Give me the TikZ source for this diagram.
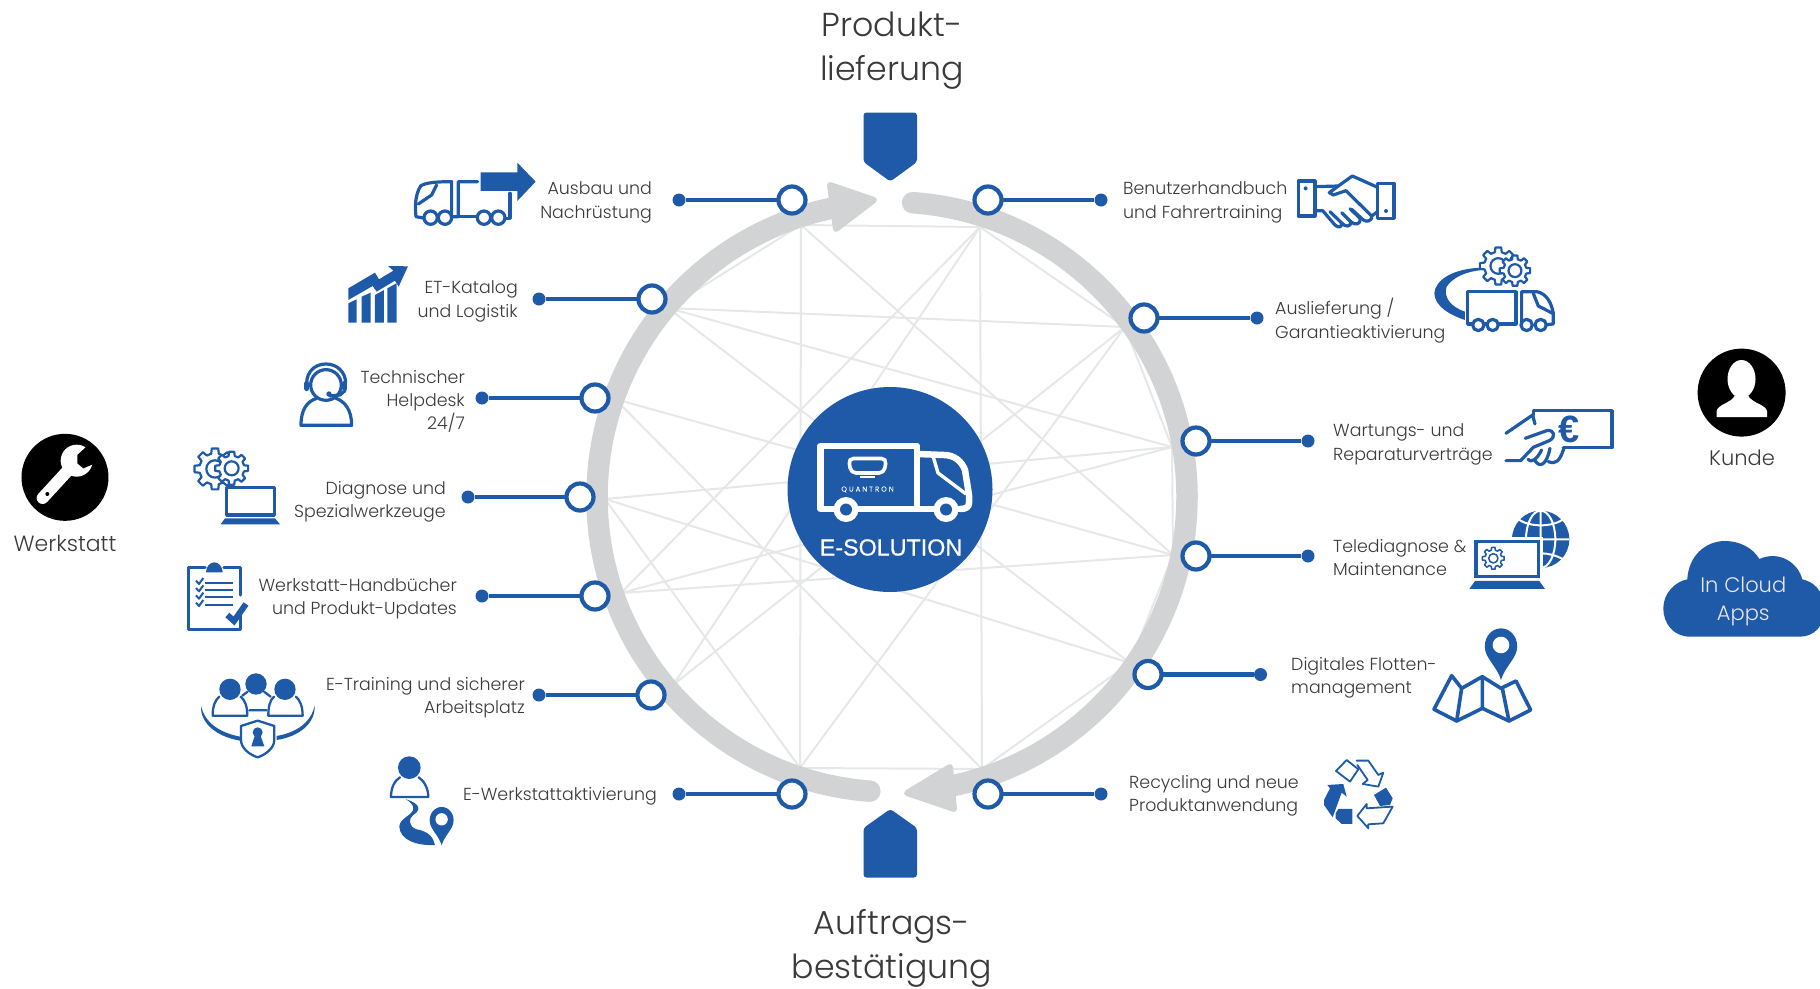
\documentclass[tikz,border=0pt]{standalone}
\usepackage{fontspec}
\setmainfont{Poppins Light}
\newfontfamily\arialfont{Liberation Sans}
\usetikzlibrary{calc}
\definecolor{qblue}{HTML}{1E5AA8}
\definecolor{ringgray}{HTML}{D1D3D4}
\definecolor{webgray}{HTML}{E6E7E8}
\definecolor{txtgray}{HTML}{3A3A3C}
\tikzset{
  crop/.style 2 args={shift={(#1,#2)},x=.3333pt,y=-.3333pt},
  webline/.style={draw=webgray,line width=2pt},
  ringarc/.style={draw=ringgray,line width=21.5pt,line cap=round},
  ringtip/.style={fill=ringgray,draw=ringgray,line width=6pt,line join=round},
  leadline/.style={draw=qblue,line width=4.2pt},
  ringnode/.style={circle,draw=qblue,line width=4.2pt,fill=white,inner sep=0pt,minimum size=27pt},
  dotnode/.style={circle,fill=qblue,inner sep=0pt,minimum size=13pt},
  lbl/.style={text=txtgray,font=\fontsize{17.4}{23.3}\selectfont,inner sep=0pt,yshift=-2.5pt},
  lblr/.style={lbl,anchor=east,align=right},
  lbll/.style={lbl,anchor=west,align=left},
  title/.style={text=txtgray,font=\fontsize{33.2}{44}\selectfont,align=center,inner sep=0pt,yshift=-4pt},
  ico/.style={draw=qblue,line width=3.2pt,line join=round,line cap=round},
  icofill/.style={fill=qblue},
  gearline/.style={draw=qblue,line width=2.2pt,line join=round,fill=white},
  gear/.pic={
    \draw[gearline] (-14:.76) \foreach \a in {0,45,...,315}{ -- (\a-14:.76) -- (\a-9:1) -- (\a+9:1) -- (\a+14:.76) } -- cycle;
    \draw[gearline] (0,0) circle (.42);
  },
  mappin/.pic={
    \fill[qblue] (-.94,.35) .. controls (-.8,.9) and (-.2,1.4) .. (0,2.1) .. controls (.2,1.4) and (.8,.9) .. (.94,.35) .. controls (1.1,-.4) and (.6,-1) .. (0,-1) .. controls (-.6,-1) and (-1.1,-.4) .. (-.94,.35) -- cycle;
    \fill[white] (0,0) circle (.5);
  },
}
\begin{document}
\begin{tikzpicture}[x=1pt,y=-1pt]
  \useasboundingbox (0,0) rectangle (1820,988);
  % web inside the ring
  \coordinate (wa) at (801,225);
  \coordinate (wb) at (668,308);
  \coordinate (wc) at (615,399);
  \coordinate (wd) at (605,499);
  \coordinate (we) at (621,593);
  \coordinate (wf) at (673,685);
  \coordinate (wg) at (800,768);
  \coordinate (wh) at (980,227);
  \coordinate (wi) at (1125,327);
  \coordinate (wj) at (1172,447);
  \coordinate (wk) at (1173,555);
  \coordinate (wl) at (1130,663);
  \coordinate (wm) at (982,769);
  \foreach \p/\q in {wa/wh,wa/wg,wa/wb,wa/wk,wh/wm,wh/wi,wh/we,wh/wf,wb/wi,wb/wj,wb/wl,wb/wc,wc/wk,wc/wm,wd/wj,wd/wl,wd/wg,we/wj,we/wk,wf/wi,wg/wi,wg/wm,wm/wl,wl/wk,wk/wj,wj/wi}
    \draw[webline] (\p) -- (\q);

  % grey ring with its two arrows
  \coordinate (loop) at (892,497);
  \draw[ringarc] ([shift={(-86:295)}]loop) arc[start angle=-86,end angle=78,radius=295];
  \draw[ringarc] ([shift={(94.3:295)}]loop) arc[start angle=94.3,end angle=258,radius=295];
  \draw[ringtip] (874,200) -- (830,185) -- (836,229) -- cycle;
  \draw[ringtip] (907,793) -- (950,767) -- (954,809) -- cycle;

  % the two shields
  \fill[qblue,rounded corners=3pt] (863.5,112.5) -- (917,112.5) -- (917,162) -- (890.3,181.5) -- (863.5,162) -- cycle;
  \fill[qblue,rounded corners=3pt] (863.5,877.5) -- (917,877.5) -- (917,828) -- (890.3,809) -- (863.5,828) -- cycle;

  % hub
  \node[circle,fill=qblue,inner sep=0pt,minimum size=205pt] (hub) at (890,489.5) {};
  \draw[draw=white,line width=6.5pt,line join=round] (917,509) -- (820.5,509) -- (820.5,446) -- (917,446) -- (917,509) -- (965,509);
  \draw[draw=white,line width=6.5pt,line join=round] (918,454) -- (944,455) .. controls (955,455) and (962,462) .. (965,470) -- (969,495) -- (969,503) .. controls (969,507) and (966,509) .. (960,509);
  \draw[draw=white,line width=3.4pt,line join=round] (933,456) -- (938,473) -- (966,494);
  \foreach \w/\x in {wheela/846,wheelb/946}{
    \node[circle,fill=white,inner sep=0pt,minimum size=25pt] (\w) at (\x,509.5) {};
    \node[circle,fill=qblue,inner sep=0pt,minimum size=12pt] at (\w) {};
  }
  \draw[draw=white,line width=3.6pt,rounded corners=5pt] (848.5,458.5) -- (886.5,458.5) -- (884,473) -- (851,473) -- cycle;
  \draw[draw=white,line width=1.6pt] (860,477) -- (875,477);
  \node[text=white,inner sep=0pt,font=\fontsize{7}{8}\selectfont\addfontfeatures{LetterSpace=30,FakeBold=.4}] (brand) at (867.5,489.5) {QUANTRON};
  \node[text=white,inner sep=0pt,font=\arialfont\fontsize{23.3}{26}\selectfont\addfontfeatures{FakeBold=.7}] (esol) at (891,547.5) {E-SOLUTION};

  % leads, left side then right side
  \foreach \n/\rx/\dx/\y in {la/792/679/200,lb/652/539/299,lc/595/482/398,ld/580/468/497,le/595/482/596,lf/651/539/695,lg/792/679/794,
                          ra/988/1101/200,rb/1144/1257/318,rc/1196/1308/441,rd/1196/1308/556,re/1148/1260.5/674.5,rf/988/1101/794}{
    \node[dotnode] (\n dot) at (\dx,\y) {};
    \draw[leadline] (\n dot) -- (\rx,\y) node[ringnode] (\n ring) {};
  }

  % labels
  \node[lblr] (lalbl) at (652,200) {Ausbau und\\Nachrüstung};
  \node[lblr] (lblbl) at (518,299) {ET-Katalog\\und Logistik};
  \node[lblr] (lclbl) at (465,399) {Technischer\\Helpdesk\\24/7};
  \node[lblr] (ldlbl) at (446,499) {Diagnose und\\Spezialwerkzeuge};
  \node[lblr] (lelbl) at (457,596) {Werkstatt-Handbücher\\und Produkt-Updates};
  \node[lblr] (lflbl) at (525,695) {E-Training und sicherer\\Arbeitsplatz};
  \node[lblr] (lglbl) at (657,794) {E-Werkstattaktivierung};
  \node[lbll] (ralbl) at (1123,200) {Benutzerhandbuch\\und Fahrertraining};
  \node[lbll] (rblbl) at (1275,318) {Auslieferung /\\Garantieaktivierung};
  \node[lbll] (rclbl) at (1333,442) {Wartungs- und\\Reparaturverträge};
  \node[lbll] (rdlbl) at (1333,555) {Telediagnose \&\\Maintenance};
  \node[lbll] (relbl) at (1291,675) {Digitales Flotten-\\management};
  \node[lbll] (rflbl) at (1129,793) {Recycling und neue\\Produktanwendung};
  \node[title] (top) at (892,47) {Produkt-\\lieferung};
  \node[title] (bottom) at (892,944) {Auftrags-\\bestätigung};

  % Werkstatt
  \begin{scope}[crop={0}{420}]
    \node[circle,fill=black,inner sep=0pt,minimum size=87pt] (shop) at (195,172) {};
    \draw[white,line width=12pt,line cap=round] (205,150) -- (128,234);
    \fill[white] (230,122) circle (48);
    \fill[black] (272,68) -- (232,105) -- (232,130) -- (250,145) -- (298,125) -- cycle;
    \fill[black] (142,222) circle (6);
    \node[lbl,font=\fontsize{22}{25}\selectfont] (shoplbl) at (195,363) {Werkstatt};
  \end{scope}

  % Kunde
  \node[circle,fill=black,inner sep=0pt,minimum size=88pt] (client) at (1741.6,392.6) {};
  \fill[white] (1741.5,379) ellipse (14 and 19);
  \fill[white] (1716.5,417) -- (1716.5,411) .. controls (1718,404) and (1732,403) .. (1735,395) -- (1748,395) .. controls (1751,403) and (1765,404) .. (1767,411) -- (1767,417) -- cycle;
  \node[lbl,font=\fontsize{21}{25}\selectfont] (clientlbl) at (1742,455.5) {Kunde};

  % cloud
  \begin{scope}[crop={1300}{480}]
    \fill[qblue] (1170,470) .. controls (1120,470) and (1090,430) .. (1090,385) .. controls (1090,340) and (1125,305) .. (1162,298) .. controls (1165,230) and (1215,183) .. (1275,183) .. controls (1320,183) and (1360,205) .. (1378,237) .. controls (1440,210) and (1495,250) .. (1507,298) .. controls (1540,305) and (1570,330) .. (1575,385) .. controls (1575,440) and (1540,470) .. (1500,470) -- cycle;
    \node[text=webgray,inner sep=0pt,align=center,font=\fontsize{21}{28.5}\selectfont] (cloudlbl) at (1330,365) {In Cloud\\Apps};
  \end{scope}

  % icons of the left side
  \begin{scope}[crop={180}{150}]
    % truck and arrow
    \draw[ico] (735,205) -- (708,200) .. controls (705,170) and (705,135) .. (722,108) .. controls (735,98) and (770,95) .. (815,95) -- (815,200) -- (835,200) -- (835,95) -- (893,95);
    \draw[ico] (770,105) -- (755,135) -- (715,162);
    \draw[ico] (835,200) -- (890,200) (990,130) -- (990,205) -- (975,205);
    \foreach \x in {752,795,912,955} \draw[ico,fill=white] (\x,203) circle (20);
    \fill[qblue] (902,67) -- (1012,67) -- (1012,38) -- (1067,95) -- (1012,153) -- (1012,123) -- (902,123) -- cycle;
    % chart
    \fill[qblue] (505,415) -- (585,368) -- (597,388) -- (640,362) -- (624,348) -- (684,349) -- (656,410) -- (645,392) -- (590,425) -- (578,408) -- (505,450) -- cycle;
    \fill[qblue] (505,460) -- (530,448) -- (530,518) -- (505,518) -- cycle;
    \fill[qblue] (545,440) -- (572,428) -- (572,518) -- (545,518) -- cycle;
    \fill[qblue] (585,435) -- (612,420) -- (612,518) -- (585,518) -- cycle;
    \fill[qblue] (622,415) -- (650,400) -- (650,518) -- (622,518) -- cycle;
    % headset
    \draw[ico] (438,705) circle (46);
    \draw[ico] (380,700) .. controls (380,665) and (405,642) .. (438,642) .. controls (470,642) and (497,665) .. (497,700);
    \draw[qblue,line width=5pt,line cap=round] (381,700) -- (381,716) (495,700) -- (495,716);
    \draw[ico] (495,722) -- (480,735) -- (450,738);
    \fill[qblue] (447,732) circle (8);
    \draw[ico] (410,745) .. controls (380,755) and (363,780) .. (363,826) -- (515,826) .. controls (515,780) and (495,755) .. (468,745);
    % gears and laptop
    \pic[scale=62] at (105,957) {gear};
    \pic[scale=50] at (155,955) {gear};
    \draw[ico,fill=white,line cap=butt] (140,1013) rectangle (283,1095);
    \fill[qblue] (135,1105) -- (285,1105) -- (300,1123) -- (122,1123) -- cycle;
  \end{scope}

  \begin{scope}[crop={150}{540}]
    % clipboard
    \draw[ico] (165,83) -- (115,83) -- (115,268) -- (272,268) -- (272,215);
    \draw[ico] (272,165) -- (272,83) -- (222,83);
    \fill[qblue] (168,97) .. controls (168,80) and (180,67) .. (193,67) .. controls (206,67) and (218,80) .. (218,97) -- cycle;
    \foreach \y in {128,150,172,194}{
      \draw[qblue,line width=2pt] (165,\y) -- (248,\y);
      \draw[qblue,line width=2pt,line join=round] (138,\y-6) -- (147,\y+4) -- (160,\y-14);
    }
    \draw[qblue,line width=6pt,line join=miter] (232,225) -- (252,243) -- (288,192);
    % team with shield
    \foreach \x/\y in {240/448,318/432,405/448} \fill[qblue] (\x,\y) circle (32);
    \draw[ico,line width=2.3pt] (208,470) .. controls (195,480) and (188,500) .. (188,527) -- (292,527) .. controls (292,500) and (285,480) .. (272,470);
    \draw[ico,line width=2.3pt] (372,470) .. controls (360,480) and (355,500) .. (355,527) -- (458,527) .. controls (458,500) and (450,480) .. (438,470);
    \draw[ico,line width=2.3pt] (277,467) -- (293,455) (342,455) -- (362,470) (298,511) -- (350,511);
    \fill[qblue] (153,497) .. controls (165,550) and (210,578) .. (270,590) -- (270,602) .. controls (200,590) and (150,550) .. (153,497) -- cycle;
    \fill[qblue] (494,497) .. controls (482,550) and (437,578) .. (380,588) -- (380,600) .. controls (447,590) and (497,550) .. (494,497) -- cycle;
    \draw[ico,line width=2.3pt] (323,542) -- (373,558) -- (373,600) .. controls (373,625) and (345,645) .. (323,652) .. controls (300,645) and (273,625) .. (273,600) -- (273,558) -- cycle;
    \fill[qblue] (323,577) circle (15);
    \fill[qblue] (315,585) -- (331,585) -- (343,619) -- (304,619) -- cycle;
    % person, road and pin
    \fill[qblue] (778,683) circle (34);
    \draw[ico,line width=2.3pt] (750,712) .. controls (733,722) and (723,745) .. (723,771) -- (835,771) .. controls (835,745) and (822,722) .. (806,712);
    \fill[qblue] (768,778) .. controls (810,790) and (815,810) .. (790,825) .. controls (775,835) and (775,860) .. (800,868) .. controls (840,875) and (850,895) .. (855,915) .. controls (800,918) and (750,900) .. (748,860) .. controls (748,835) and (790,825) .. (790,805) .. controls (790,795) and (780,785) .. (768,778) -- cycle;
    \pic[scale=37] at (875,838) {mappin};
  \end{scope}

  % icons of the right side
  \begin{scope}[crop={1100}{150}]
    % handshake
    \draw[ico] (595,93) rectangle (645,198) (833,100) rectangle (882,205);
    \fill[qblue] (617,115) circle (6) (858,183) circle (6);
    \draw[ico] (645,110) -- (715,108) -- (757,78) -- (833,112);
    \draw[ico] (715,108) -- (688,128) -- (700,135) -- (738,122) -- (815,198) .. controls (818,212) and (800,218) .. (790,210) -- (755,178);
    \draw[ico] (645,182) -- (668,182) -- (705,225) .. controls (715,235) and (728,232) .. (724,218) -- (690,185);
    \draw[ico] (724,218) .. controls (735,232) and (755,232) .. (752,215) -- (725,188);
    \draw[ico] (752,215) .. controls (765,228) and (785,222) .. (780,205) -- (750,176);
    \draw[ico] (815,198) -- (833,185);
    % truck, swoosh and gears
    \fill[qblue] (1150,353) .. controls (1050,355) and (1005,395) .. (1003,430) .. controls (1005,470) and (1050,495) .. (1095,510) -- (1095,485) .. controls (1050,470) and (1030,440) .. (1040,410) .. controls (1060,380) and (1100,365) .. (1145,360) -- cycle;
    \pic[scale=56] at (1195,348) {gear};
    \pic[scale=46] at (1245,362) {gear};
    \draw[ico,line cap=butt] (1103,425) rectangle (1248,522);
    \draw[ico] (1265,522) -- (1265,425) -- (1310,425) .. controls (1340,430) and (1355,460) .. (1360,490) -- (1360,522) -- (1340,524);
    \draw[ico] (1300,430) -- (1315,468) -- (1358,490);
    \foreach \x in {1135,1178,1280,1322} \draw[ico,fill=white] (\x,525) circle (17);
    % hand with banknote
    \draw[ico] (1300,795) -- (1300,782) -- (1536,782) -- (1536,893) -- (1390,893);
    \draw[ico] (1218,850) -- (1298,795) -- (1305,822);
    \draw[ico] (1218,932) -- (1262,932) -- (1300,892) -- (1348,872) .. controls (1368,862) and (1365,838) .. (1340,842) -- (1276,865);
    \draw[ico] (1284,928) .. controls (1292,940) and (1310,930) .. (1325,900);
    \draw[ico] (1305,932) .. controls (1320,955) and (1340,945) .. (1350,895);
    \draw[ico] (1345,935) .. controls (1370,945) and (1380,930) .. (1392,895);
    \node[text=qblue,inner sep=0pt,font=\arialfont\bfseries\fontsize{38}{38}\selectfont] (euro) at (1408,838) {€};
  \end{scope}

  \begin{scope}[crop={1300}{480}]
    % globe and laptop
    \fill[qblue] (722,178) circle (86);
    \draw[white,line width=2pt] (722,92) -- (722,264) (636,178) -- (808,178) (722,178) ellipse (44 and 86);
    \draw[white,line width=2pt] (655,118) .. controls (690,142) and (755,142) .. (790,118) (660,238) .. controls (700,214) and (745,214) .. (790,238);
    \draw[white,line width=9pt] (528,185) rectangle (715,290);
    \draw[draw=qblue,fill=white,line width=3.5pt] (528,185) rectangle (715,290);
    \begin{scope}[gearline/.append style={line width=1.5pt}]
      \pic[scale=33] at (580,235) {gear};
    \end{scope}
    \fill[qblue] (525,303) -- (718,303) -- (735,327) -- (508,327) -- cycle;
    % map and pin
    \draw[ico,line width=3.6pt] (455,587) -- (485,625) -- (547,590) -- (603,625) -- (648,603) -- (692,690) -- (627,723) -- (547,685) -- (470,723) -- (402,688) -- cycle;
    \draw[ico,line width=3.6pt] (485,625) -- (470,723) (547,590) -- (547,685) (607,625) -- (627,723);
    \pic[scale=50] at (603,495) {mappin};
    % recycling
    \draw[ico,line width=1.8pt] (108,873) -- (140,840) -- (175,868) -- (150,905) -- cycle;
    \draw[ico,line width=1.8pt] (170,842) -- (205,842) -- (235,885) -- (250,878) -- (235,920) -- (188,912) -- (203,900) -- (172,855);
    \draw[ico,line width=1.8pt] (172,1008) -- (200,972) -- (200,985) -- (278,980) -- (250,1030) -- (205,1033) -- (205,1045) -- cycle;
    \fill[qblue] (222,945) -- (258,923) -- (278,955) -- (270,975) -- (240,978) -- cycle;
    \fill[qblue] (72,960) -- (90,925) -- (82,915) -- (130,912) -- (140,950) -- (125,938) -- (98,1012) -- (72,975) -- cycle;
    \fill[qblue] (107,1000) -- (115,987) -- (157,987) -- (157,1032) -- (125,1032) -- (107,1015) -- cycle;
  \end{scope}
\end{tikzpicture}
\end{document}
